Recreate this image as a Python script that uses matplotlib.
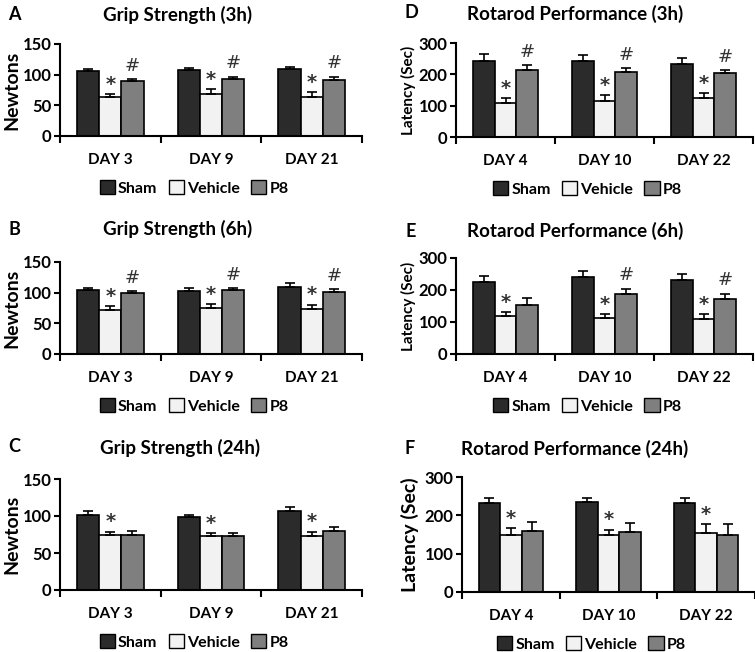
import matplotlib
matplotlib.use("Agg")
import matplotlib.pyplot as plt
from matplotlib.patches import Patch
import numpy as np

plt.rcParams['font.family'] = ['Lato', 'DejaVu Sans']

groups = ["Sham", "Vehicle", "P8"]
colors = ["#2b2b2b", "#f2f2f2", "#7f7f7f"]

grip_days = ["DAY 3", "DAY 9", "DAY 21"]
rota_days = ["DAY 4", "DAY 10", "DAY 22"]

# Grip strength (Newtons)
gA_mean = {"Sham": [106, 107.5, 108.5], "Vehicle": [63, 69, 64], "P8": [90, 93, 91]}
gA_err = {"Sham": [4, 3.5, 4.5], "Vehicle": [6, 8, 8], "P8": [3, 3.5, 5.5]}
gB_mean = {"Sham": [105, 103, 109], "Vehicle": [72, 75, 73], "P8": [99, 104, 101]}
gB_err = {"Sham": [3, 5, 6], "Vehicle": [5.5, 6, 7.5], "P8": [3, 3, 4.5]}
gC_mean = {"Sham": [101, 98, 107], "Vehicle": [75, 73, 73.5], "P8": [74, 73.5, 80]}
gC_err = {"Sham": [6, 3, 5.5], "Vehicle": [4, 3.5, 5.5], "P8": [6, 3, 4.5]}

# Rotarod latency (Sec)
rD_mean = {"Sham": [241, 241, 232], "Vehicle": [107, 115, 125], "P8": [214, 209, 204]}
rD_err = {"Sham": [23, 21, 21], "Vehicle": [18, 20, 16], "P8": [15, 11, 10]}
rE_mean = {"Sham": [224, 240, 231], "Vehicle": [120, 112, 110], "P8": [153, 187, 173]}
rE_err = {"Sham": [20, 19, 18], "Vehicle": [12, 12, 14], "P8": [23, 17, 16]}
rF_mean = {"Sham": [231, 235, 233], "Vehicle": [150, 150, 155], "P8": [158, 157, 149]}
rF_err = {"Sham": [13, 10, 12], "Vehicle": [16, 13, 22], "P8": [24, 23, 28]}

# significance marks per panel
sig_A = {"Vehicle": ["*", "*", "*"], "P8": ["#", "#", "#"]}
sig_B = {"Vehicle": ["*", "*", "*"], "P8": ["#", "#", "#"]}
sig_C = {"Vehicle": ["*", "*", "*"], "P8": ["", "", ""]}
sig_D = {"Vehicle": ["*", "*", "*"], "P8": ["#", "#", "#"]}
sig_E = {"Vehicle": ["*", "*", "*"], "P8": ["", "#", "#"]}
sig_F = {"Vehicle": ["*", "*", "*"], "P8": ["", "", ""]}

W, H = 755, 652
fig = plt.figure(figsize=(W / 100, H / 100), dpi=100)


def px_axes(left, right, top, bottom):
    return fig.add_axes([left / W, 1 - bottom / H, (right - left) / W, (bottom - top) / H])


panels = [
    ("A", "Grip Strength (3h)", "Newtons", 14, grip_days, gA_mean, gA_err, sig_A, 150, [0, 50, 100, 150],
     (60, 362, 44, 136), (14, 14), (178, 15), 12, 188),
    ("B", "Grip Strength (6h)", "Newtons", 14, grip_days, gB_mean, gB_err, sig_B, 150, [0, 50, 100, 150],
     (60, 362, 262, 354), (14, 229), (178, 229), 12, 406),
    ("C", "Grip Strength (24h)", "Newtons", 14, grip_days, gC_mean, gC_err, sig_C, 150, [0, 50, 100, 150],
     (60, 362, 479, 590), (14, 447), (180, 448), 12, 642),
    ("D", "Rotarod Performance (3h)", "Latency (Sec)", 11, rota_days, rD_mean, rD_err, sig_D, 300, [0, 100, 200, 300],
     (456, 753, 43, 137), (411, 13), (575, 14), 408, 189),
    ("E", "Rotarod Performance (6h)", "Latency (Sec)", 11, rota_days, rE_mean, rE_err, sig_E, 300, [0, 100, 200, 300],
     (456, 753, 258, 354), (411, 231), (575, 231), 408, 406),
    ("F", "Rotarod Performance (24h)", "Latency (Sec)", 14, rota_days, rF_mean, rF_err, sig_F, 300, [0, 100, 200, 300],
     (462, 755, 477, 592), (410, 449), (575, 449), 410, 644),
]

bw = 0.22
for (letter, title, ylabel, ylsize, days, means, errs, sigs, ymax, yticks,
     box, lpos, tpos, ylx, legy) in panels:
    ax = px_axes(*box)
    x = np.arange(len(days))
    for j, g in enumerate(groups):
        xs = x + (j - 1) * bw
        m = np.array(means[g], dtype=float)
        e = np.array(errs[g], dtype=float)
        ax.bar(xs, m, width=bw, color=colors[j], edgecolor="black", linewidth=1.2, zorder=2)
        ax.errorbar(xs, m, yerr=[np.zeros_like(e), e], fmt="none", ecolor="black",
                    elinewidth=1.2, capsize=3.5, capthick=1.2, zorder=3)
        if g in sigs:
            for k in range(len(days)):
                s = sigs[g][k]
                if s:
                    if s == "#":
                        ax.annotate(s, (xs[k], m[k] + e[k]), xytext=(0, 6), textcoords="offset points",
                                    ha="center", va="baseline", fontsize=13,
                                    color="#333333", family=["DejaVu Sans"])
                    else:
                        ax.annotate(s, (xs[k], m[k] + e[k]), xytext=(0, 3), textcoords="offset points",
                                    ha="center", va="baseline", fontsize=14, fontweight="bold",
                                    color="#333333", family=["DejaVu Sans"])
    ax.set_xlim(-0.5, len(days) - 0.5)
    ax.set_ylim(0, ymax)
    ax.set_yticks(yticks)
    ax.set_yticklabels([str(t) for t in yticks], fontsize=12, fontweight="bold")
    ax.set_xticks(np.arange(len(days) + 1) - 0.5)
    ax.set_xticklabels([])
    ax.set_xticks(x, minor=True)
    ax.set_xticklabels(days, minor=True, fontsize=11, fontweight="bold")
    ax.tick_params(axis="x", which="major", direction="out", length=5, width=1.5)
    ax.tick_params(axis="x", which="minor", length=0, pad=12)
    ax.tick_params(axis="y", direction="out", length=4, width=1.5, pad=2)
    for sp in ["top", "right"]:
        ax.spines[sp].set_visible(False)
    for sp in ["left", "bottom"]:
        ax.spines[sp].set_linewidth(1.5)
    ymid = (box[2] + box[3]) / 2
    fig.text(ylx / W, 1 - ymid / H, ylabel, rotation=90, ha="center", va="center",
             fontsize=ylsize, fontweight="bold")
    fig.text(lpos[0] / W, 1 - lpos[1] / H, letter, ha="center", va="center",
             fontsize=13, fontweight="bold")
    fig.text(tpos[0] / W, 1 - tpos[1] / H, title, ha="center", va="center",
             fontsize=13.5, fontweight="bold")
    handles = [Patch(facecolor=colors[j], edgecolor="black", linewidth=1.0, label=g)
               for j, g in enumerate(groups)]
    cx = (box[0] + box[1]) / 2 - 17
    ax.legend(handles=handles, loc="center", bbox_to_anchor=(cx / W, 1 - legy / H),
              bbox_transform=fig.transFigure, ncol=3, frameon=False,
              handlelength=0.95, handleheight=0.95, handletextpad=0.2, columnspacing=0.7,
              prop={"size": 11.5, "weight": "bold"}, borderaxespad=0, borderpad=0)

fig.savefig("out.png", dpi=100)
